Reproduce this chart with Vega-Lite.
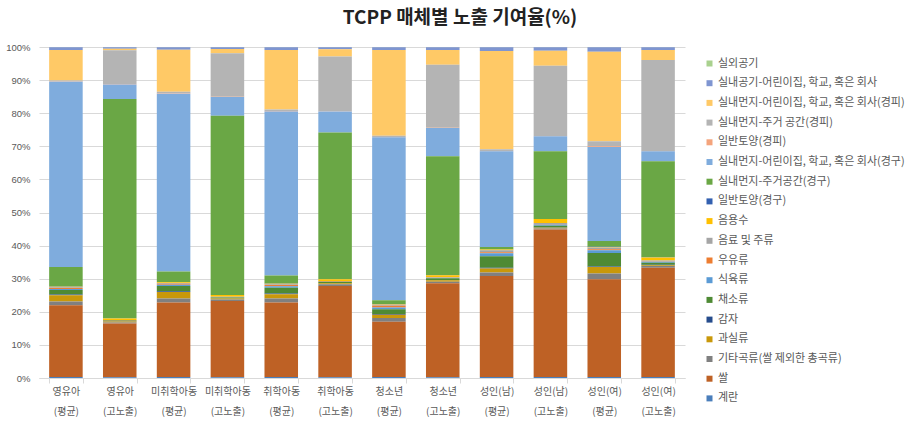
{
  "$schema": "https://vega.github.io/schema/vega-lite/v6.json",
  "width": 646,
  "height": 331,
  "autosize": {"type": "none"},
  "padding": {"left": 39, "top": 47, "right": 235, "bottom": 54},
  "background": "white",
  "title": {
    "text": "TCPP 매체별 노출 기여율(%)",
    "font": "Noto Sans CJK KR",
    "fontSize": 19,
    "fontWeight": "bold",
    "color": "#222222",
    "anchor": "middle",
    "frame": "group",
    "dx": 98,
    "offset": 14
  },
  "datasets": {
    "series": [
      {"k": "out_air", "s": "실외공기", "i": 1},
      {"k": "in_air", "s": "실내공기-어린이집, 학교, 혹은 회사", "i": 2},
      {"k": "dust_sch_d", "s": "실내먼지-어린이집, 학교, 혹은 회사(경피)", "i": 3},
      {"k": "dust_home_d", "s": "실내먼지-주거 공간(경피)", "i": 4},
      {"k": "soil_d", "s": "일반토양(경피)", "i": 5},
      {"k": "dust_sch_o", "s": "실내먼지-어린이집, 학교, 혹은 회사(경구)", "i": 6},
      {"k": "dust_home_o", "s": "실내먼지-주거공간(경구)", "i": 7},
      {"k": "soil_o", "s": "일반토양(경구)", "i": 8},
      {"k": "water", "s": "음용수", "i": 9},
      {"k": "bev", "s": "음료 및 주류", "i": 10},
      {"k": "milk", "s": "우유류", "i": 11},
      {"k": "meat", "s": "식육류", "i": 12},
      {"k": "veg", "s": "채소류", "i": 13},
      {"k": "potato", "s": "감자", "i": 14},
      {"k": "fruit", "s": "과실류", "i": 15},
      {"k": "grain", "s": "기타곡류(쌀 제외한 총곡류)", "i": 16},
      {"k": "rice", "s": "쌀", "i": 17},
      {"k": "egg", "s": "계란", "i": 18}
    ],
    "groups": [
      {"c": "영유아 (평균)", "out_air": 0.05, "in_air": 0.85, "dust_sch_d": 9.2, "dust_home_d": 0.3, "soil_d": 0.1, "dust_sch_o": 56.0, "dust_home_o": 5.85, "soil_o": 0.05, "water": 0.2, "bev": 0.2, "milk": 0.3, "meat": 0.3, "veg": 1.4, "potato": 0.2, "fruit": 1.9, "grain": 1.1, "rice": 21.7, "egg": 0.3},
      {"c": "영유아 (고노출)", "out_air": 0.05, "in_air": 0.45, "dust_sch_d": 0.5, "dust_home_d": 10.2, "soil_d": 0.1, "dust_sch_o": 4.4, "dust_home_o": 66.3, "soil_o": 0.05, "water": 0.4, "bev": 0.05, "milk": 0.1, "meat": 0.05, "veg": 0.2, "potato": 0.05, "fruit": 0.3, "grain": 0.3, "rice": 16.3, "egg": 0.2},
      {"c": "미취학아동 (평균)", "out_air": 0.05, "in_air": 0.8, "dust_sch_d": 12.7, "dust_home_d": 0.4, "soil_d": 0.2, "dust_sch_o": 53.7, "dust_home_o": 3.2, "soil_o": 0.05, "water": 0.2, "bev": 0.2, "milk": 0.3, "meat": 0.4, "veg": 1.6, "potato": 0.2, "fruit": 2.0, "grain": 1.2, "rice": 22.5, "egg": 0.3},
      {"c": "미취학아동 (고노출)", "out_air": 0.05, "in_air": 0.55, "dust_sch_d": 1.3, "dust_home_d": 13.1, "soil_d": 0.1, "dust_sch_o": 5.7, "dust_home_o": 54.1, "soil_o": 0.05, "water": 0.5, "bev": 0.05, "milk": 0.1, "meat": 0.05, "veg": 0.3, "potato": 0.05, "fruit": 0.3, "grain": 0.4, "rice": 23.1, "egg": 0.2},
      {"c": "취학아동 (평균)", "out_air": 0.05, "in_air": 0.85, "dust_sch_d": 18.0, "dust_home_d": 0.4, "soil_d": 0.2, "dust_sch_o": 49.5, "dust_home_o": 2.45, "soil_o": 0.05, "water": 0.2, "bev": 0.2, "milk": 0.4, "meat": 0.4, "veg": 1.8, "potato": 0.2, "fruit": 1.3, "grain": 1.2, "rice": 22.5, "egg": 0.3},
      {"c": "취학아동 (고노출)", "out_air": 0.05, "in_air": 0.65, "dust_sch_d": 2.2, "dust_home_d": 16.5, "soil_d": 0.1, "dust_sch_o": 6.3, "dust_home_o": 44.35, "soil_o": 0.05, "water": 0.5, "bev": 0.1, "milk": 0.1, "meat": 0.05, "veg": 0.4, "potato": 0.05, "fruit": 0.3, "grain": 0.5, "rice": 27.6, "egg": 0.2},
      {"c": "청소년 (평균)", "out_air": 0.05, "in_air": 0.85, "dust_sch_d": 25.9, "dust_home_d": 0.4, "soil_d": 0.1, "dust_sch_o": 49.2, "dust_home_o": 1.15, "soil_o": 0.05, "water": 0.2, "bev": 0.3, "milk": 0.5, "meat": 0.5, "veg": 1.5, "potato": 0.2, "fruit": 1.0, "grain": 1.1, "rice": 16.7, "egg": 0.3},
      {"c": "청소년 (고노출)", "out_air": 0.05, "in_air": 0.85, "dust_sch_d": 4.5, "dust_home_d": 19.0, "soil_d": 0.1, "dust_sch_o": 8.5, "dust_home_o": 35.9, "soil_o": 0.05, "water": 0.6, "bev": 0.1, "milk": 0.1, "meat": 0.1, "veg": 0.6, "potato": 0.05, "fruit": 0.4, "grain": 0.5, "rice": 28.4, "egg": 0.2},
      {"c": "성인(남) (평균)", "out_air": 0.05, "in_air": 1.15, "dust_sch_d": 29.7, "dust_home_d": 0.5, "soil_d": 0.1, "dust_sch_o": 28.9, "dust_home_o": 0.75, "soil_o": 0.05, "water": 0.2, "bev": 0.6, "milk": 0.3, "meat": 0.9, "veg": 3.5, "potato": 0.2, "fruit": 1.2, "grain": 1.1, "rice": 30.5, "egg": 0.3},
      {"c": "성인(남) (고노출)", "out_air": 0.05, "in_air": 1.05, "dust_sch_d": 4.6, "dust_home_d": 21.2, "soil_d": 0.1, "dust_sch_o": 4.5, "dust_home_o": 20.45, "soil_o": 0.05, "water": 1.2, "bev": 0.3, "milk": 0.1, "meat": 0.4, "veg": 0.5, "potato": 0.1, "fruit": 0.2, "grain": 0.3, "rice": 44.6, "egg": 0.3},
      {"c": "성인(여) (평균)", "out_air": 0.05, "in_air": 1.35, "dust_sch_d": 27.1, "dust_home_d": 1.5, "soil_d": 0.2, "dust_sch_o": 28.4, "dust_home_o": 1.75, "soil_o": 0.05, "water": 0.2, "bev": 0.5, "milk": 0.3, "meat": 0.8, "veg": 4.1, "potato": 0.2, "fruit": 1.9, "grain": 1.8, "rice": 29.5, "egg": 0.3},
      {"c": "성인(여) (고노출)", "out_air": 0.05, "in_air": 0.85, "dust_sch_d": 3.0, "dust_home_d": 27.5, "soil_d": 0.1, "dust_sch_o": 3.05, "dust_home_o": 29.0, "soil_o": 0.05, "water": 0.9, "bev": 0.3, "milk": 0.1, "meat": 0.3, "veg": 0.6, "potato": 0.1, "fruit": 0.3, "grain": 0.5, "rice": 33.0, "egg": 0.3}
    ]
  },
  "data": {"name": "groups"},
  "transform": [
    {"fold": ["out_air", "in_air", "dust_sch_d", "dust_home_d", "soil_d", "dust_sch_o", "dust_home_o", "soil_o", "water", "bev", "milk", "meat", "veg", "potato", "fruit", "grain", "rice", "egg"], "as": ["k", "v"]},
    {"lookup": "k", "from": {"data": {"name": "series"}, "key": "k", "fields": ["s", "i"]}}
  ],
  "mark": {"type": "bar"},
  "encoding": {
    "x": {
      "field": "c",
      "type": "nominal",
      "sort": null,
      "title": null,
      "scale": {"paddingInner": 0.377, "paddingOuter": 0.1885},
      "axis": {
        "labelAngle": 0,
        "labelExpr": "split(datum.label, ' ')",
        "labelFont": "Noto Sans CJK KR",
        "labelFontSize": 10,
        "labelColor": "#595959",
        "labelLineHeight": 20,
        "labelPadding": 3,
        "labelBaseline": "top",
        "tickBand": "extent",
        "tickSize": 5,
        "tickColor": "#D9D9D9",
        "domainColor": "#D9D9D9",
        "grid": false
      }
    },
    "y": {
      "field": "v",
      "type": "quantitative",
      "stack": "normalize",
      "title": null,
      "scale": {"domain": [0, 1], "nice": false},
      "axis": {
        "values": [0, 0.1, 0.2, 0.3, 0.4, 0.5, 0.6, 0.7, 0.8, 0.9, 1],
        "format": ".0%",
        "labelFont": "Liberation Sans",
        "labelFontSize": 9.5,
        "labelColor": "#595959",
        "ticks": false,
        "domain": false,
        "labelPadding": 9,
        "gridColor": "#D9D9D9",
        "gridWidth": 1
      }
    },
    "color": {
      "field": "s",
      "type": "nominal",
      "title": null,
      "scale": {
        "domain": ["실외공기", "실내공기-어린이집, 학교, 혹은 회사", "실내먼지-어린이집, 학교, 혹은 회사(경피)", "실내먼지-주거 공간(경피)", "일반토양(경피)", "실내먼지-어린이집, 학교, 혹은 회사(경구)", "실내먼지-주거공간(경구)", "일반토양(경구)", "음용수", "음료 및 주류", "우유류", "식육류", "채소류", "감자", "과실류", "기타곡류(쌀 제외한 총곡류)", "쌀", "계란"],
        "range": ["#A9D18E", "#7F95D1", "#FFC966", "#B4B4B4", "#F4A47C", "#7FACDD", "#6AA745", "#3360B0", "#FFC000", "#A5A5A5", "#ED7D31", "#5B9BD5", "#4E8A34", "#264C8C", "#C9980A", "#808080", "#BE6125", "#4A7EBB"]
      },
      "legend": {
        "orient": "none",
        "legendX": 665,
        "legendY": 11,
        "padding": 0,
        "symbolType": "square",
        "symbolSize": 36,
        "symbolStrokeWidth": 0,
        "labelFont": "Noto Sans CJK KR",
        "labelFontSize": 11,
        "labelColor": "#595959",
        "labelOffset": 3,
        "labelLimit": 240,
        "rowPadding": 7.7
      }
    },
    "order": {"field": "i", "type": "quantitative", "sort": "descending"}
  },
  "config": {
    "view": {"stroke": null}
  }
}
